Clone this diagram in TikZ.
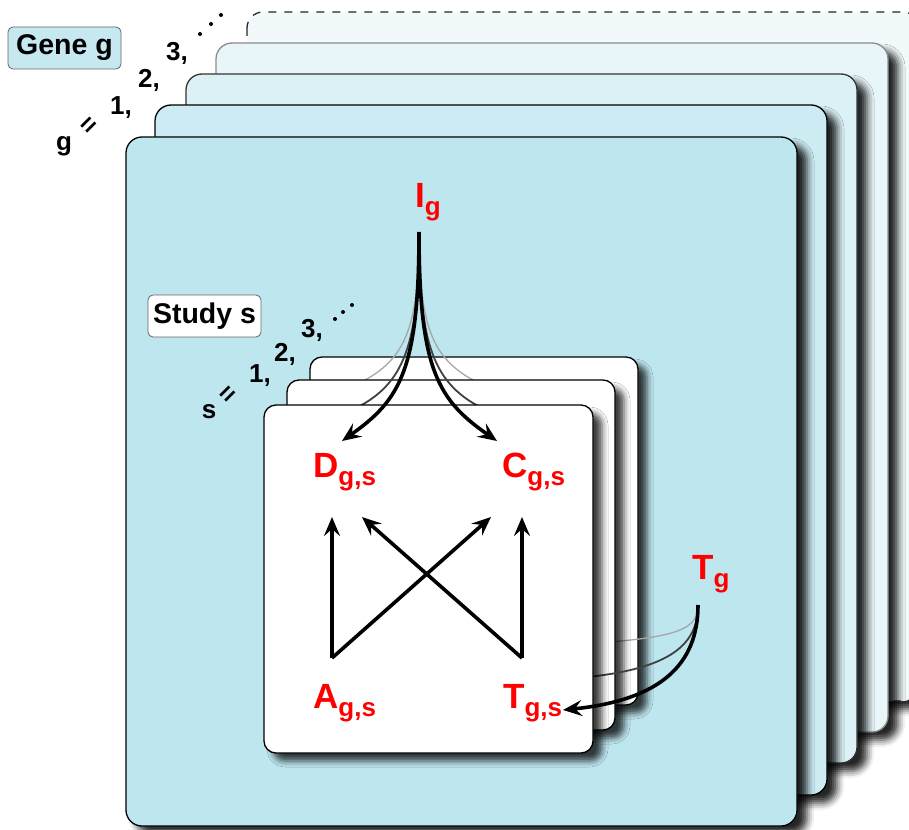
\documentclass[tikz,border=0pt]{standalone}
\usepackage{fontspec}
\setmainfont{Liberation Sans}
\usetikzlibrary{arrows.meta,shadows,shadows.blur}
\definecolor{gA}{HTML}{BEE6EF}
\definecolor{gB}{HTML}{CCEBF2}
\definecolor{gC}{HTML}{DCF1F6}
\definecolor{gD}{HTML}{E8F5F9}
\definecolor{gE}{HTML}{F1F9FB}
\definecolor{labred}{HTML}{FF0000}
\newcommand\varlab[2]{#1\raisebox{-8pt}{\fontsize{26}{26}\selectfont #2}}
\tikzset{
  genebox/.style={rounded corners=16pt, line width=1.3pt,
    blur shadow={shadow xshift=10pt, shadow yshift=-8pt, shadow blur radius=7pt, shadow opacity=85}},
  studybox/.style={rounded corners=12pt, line width=1.3pt, fill=white, draw=black,
    blur shadow={shadow xshift=9pt, shadow yshift=-8pt, shadow blur radius=6pt, shadow opacity=75}},
  tagbox/.style={rounded corners=5pt, draw=black!60, line width=0.8pt, inner sep=3pt,
    font=\fontsize{28.5}{30}\selectfont\bfseries},
  idx/.style={font=\fontsize{26}{28}\selectfont\bfseries, inner sep=0.5pt},
  var/.style={text=labred, font=\fontsize{35}{36}\selectfont\bfseries, anchor=base west, inner sep=0pt},
  mainarrow/.style={line width=3.6pt, -{Stealth[length=19pt,width=16pt,inset=7pt]}},
  darkarrow/.style={line width=1.8pt, draw=black!75},
  lightarrow/.style={line width=1.3pt, draw=black!35}
}
\begin{document}
\begin{tikzpicture}[x=1pt,y=-1pt]
\useasboundingbox (0,0) rectangle (909,829);
% gene plates (back to front)
\path[genebox, fill=gE, draw=black!85, dashed, dash pattern=on 8pt off 8pt] (247,12) rectangle (919,701);
\path[genebox, fill=gD, draw=black!45] (216,43) rectangle (888,732);
\path[genebox, fill=gC, draw=black!80] (186,74) rectangle (857,763);
\path[genebox, fill=gB, draw=black] (155,105) rectangle (827,795);
\path[genebox, fill=gA, draw=black] (126,137) rectangle (797,826);
% gene label and index
\node[tagbox, fill=gA!90!white, minimum width=113pt, minimum height=42pt] (genelab) at (64.5,48) {Gene g};
\node[idx] (gsym) at (64,146) {g};
\node[idx, rotate=45] (geq) at (90,126) {=};
\node[idx] (g1) at (121,108) {1,};
\node[idx] (g2) at (149,80) {2,};
\node[idx] (g3) at (177,53) {3,};
\fill (200,34) circle (2) (211,24) circle (2) (221,15) circle (2);
% study label and index
\node[tagbox, fill=white, minimum width=113pt, minimum height=42pt] (studylab) at (204.5,316) {Study s};
\node[idx] (ssym) at (209,412) {s};
\node[idx, rotate=45] (seq) at (229,395) {=};
\node[idx] (s1) at (260,376) {1,};
\node[idx] (s2) at (285,354) {2,};
\node[idx] (s3) at (312,330) {3,};
\fill (335,319) circle (2) (343,312) circle (2) (352,305) circle (2);
% gene-level variables
\node[var] (Ig) at (415,207) {\varlab{I}{g}};
\node[var] (Tg) at (692,579) {\varlab{T}{g}};
\coordinate (Igfoot) at (419,232);
\coordinate (Tgfoot) at (698,605);
% study plate 3
\path[studybox] (310,357) rectangle (638,705);
\draw[lightarrow] (Igfoot) .. controls (419,330) and (405,362) .. (355,385);
\draw[lightarrow] (Igfoot) .. controls (419,330) and (433,362) .. (483,385);
\draw[lightarrow] (Tgfoot) .. controls (698,628) and (680,636) .. (610,642);
% study plate 2
\path[studybox] (287,380) rectangle (615,730);
\draw[darkarrow] (Igfoot) .. controls (419,345) and (405,385) .. (352,410);
\draw[darkarrow] (Igfoot) .. controls (419,345) and (433,385) .. (486,410);
\draw[darkarrow] (Tgfoot) .. controls (698,645) and (670,668) .. (588,677);
% study plate 1
\path[studybox] (264,405) rectangle (593,753);
\node[var] (D) at (313,477) {\varlab{D}{g,s}};
\node[var] (C) at (502,477) {\varlab{C}{g,s}};
\node[var] (A) at (313,708) {\varlab{A}{g,s}};
\node[var] (Tgs) at (503,708) {\varlab{T}{g,s}};
\coordinate (Dtip) at (342,441);
\coordinate (Ctip) at (497,441);
\coordinate (Afoot) at (332,658);
\coordinate (Tfoot) at (522,658);
\coordinate (AD) at (332,517);
\coordinate (AC) at (491,517);
\coordinate (TC) at (522,517);
\coordinate (TD) at (362,517);
\coordinate (Tstip) at (563,710);
\draw[mainarrow] (Igfoot) .. controls (419,370) and (400,400) .. (Dtip);
\draw[mainarrow] (Igfoot) .. controls (419,370) and (438,400) .. (Ctip);
\draw[mainarrow] (Tgfoot) .. controls (698,665) and (660,700) .. (Tstip);
\draw[mainarrow] (Afoot) -- (AD);
\draw[mainarrow] (Afoot) -- (AC);
\draw[mainarrow] (Tfoot) -- (TC);
\draw[mainarrow] (Tfoot) -- (TD);
\end{tikzpicture}
\end{document}
